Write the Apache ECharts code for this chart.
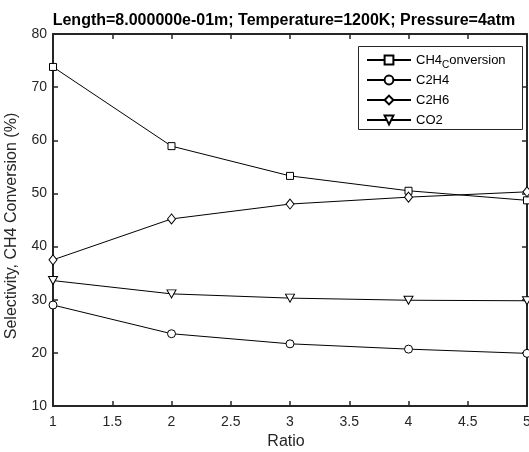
<!DOCTYPE html>
<html>
<head>
<meta charset="utf-8">
<script src="https://cdn.jsdelivr.net/npm/echarts@6/dist/echarts.min.js"></script>
<style>
  html, body { margin: 0; padding: 0; background: #fff; }
  #chart { width: 529px; height: 452px; }
</style>
</head>
<body>
<div id="chart"></div>
<script>
// values
const ratio = [1, 2, 3, 4, 5];
const ch4Conversion = [73.8, 58.9, 53.3, 50.5, 48.7];
const c2h4 = [29.0, 23.6, 21.7, 20.7, 19.9];
const c2h6 = [37.5, 45.2, 48.0, 49.3, 50.3];
const co2 = [33.6, 31.1, 30.3, 29.9, 29.8];

const seriesNames = ['CH4_conversion', 'C2H4', 'C2H6', 'CO2'];
const seriesData = [ch4Conversion, c2h4, c2h6, co2];
const symbols = ['rect', 'circle', 'diamond', 'triangle'];
const symbolSizes = [7, 8, [8, 10], [9, 8]];
const symbolRotates = [0, 0, 0, 180];

const axisColor = '#262626';
const font = 'Liberation Sans, Arial, sans-serif';

const pairs = d => d.map((v, i) => [ratio[i], v]);

const myChart = echarts.init(document.getElementById('chart'));

const options = {
  animation: false,
  backgroundColor: '#fff',
  title: {
    text: 'Length=8.000000e-01m; Temperature=1200K; Pressure=4atm',
    left: 279,
    textAlign: 'center',
    top: 8,
    textStyle: { fontFamily: font, fontSize: 16, fontWeight: 'bold', color: '#000' }
  },
  grid: { left: 53, right: 2, top: 34, bottom: 46, containLabel: false, outerBoundsMode: 'none' },
  xAxis: [{
    type: 'value', min: 1, max: 5, interval: 0.5,
    name: 'Ratio', nameLocation: 'middle', nameGap: 25,
    nameTextStyle: { fontFamily: font, fontSize: 16, color: axisColor, padding: [0, 8, 0, 0] },
    axisLine: { lineStyle: { color: axisColor, width: 2 } },
    axisTick: { inside: true, length: 5, lineStyle: { color: axisColor, width: 1.5 } },
    axisLabel: { fontFamily: font, fontSize: 14, color: axisColor, margin: 9 },
    splitLine: { show: false }
  }, {
    type: 'value', min: 1, max: 5, interval: 0.5, position: 'top',
    axisLine: { lineStyle: { color: axisColor, width: 2 } },
    axisTick: { inside: true, length: 5, lineStyle: { color: axisColor, width: 1.5 } },
    axisLabel: { show: false },
    splitLine: { show: false }
  }],
  yAxis: [{
    type: 'value', min: 10, max: 80, interval: 10,
    name: 'Selectivity, CH4 Conversion (%)', nameLocation: 'middle', nameGap: 33,
    nameTextStyle: { fontFamily: font, fontSize: 16, color: axisColor, padding: [0, 12, 0, 0] },
    axisLine: { show: true, lineStyle: { color: axisColor, width: 2 } },
    axisTick: { show: true, inside: true, length: 5, lineStyle: { color: axisColor, width: 1.5 } },
    axisLabel: { fontFamily: font, fontSize: 14, color: axisColor, margin: 6 },
    splitLine: { show: false }
  }, {
    type: 'value', min: 10, max: 80, interval: 10, position: 'right',
    axisLine: { show: true, lineStyle: { color: axisColor, width: 2 } },
    axisTick: { show: true, inside: true, length: 5, lineStyle: { color: axisColor, width: 1.5 } },
    axisLabel: { show: false },
    splitLine: { show: false }
  }],
  legend: {
    orient: 'vertical',
    left: 361,
    top: 45,
    itemWidth: 44,
    itemHeight: 11,
    itemGap: 0,
    data: seriesNames,
    lineStyle: { width: 2 },
    formatter: name => name === 'CH4_conversion' ? '{n|CH4}{s|C}{n|onversion}' : name,
    textStyle: {
      fontFamily: font, fontSize: 13, color: '#000', lineHeight: 20,
      rich: {
        n: { fontFamily: font, fontSize: 13, color: '#000', lineHeight: 20 },
        s: { fontFamily: font, fontSize: 10, color: '#000', lineHeight: 10, verticalAlign: 'bottom' }
      }
    }
  },
  graphic: [{
    type: 'rect',
    shape: { x: 358.5, y: 46.5, width: 164, height: 83 },
    style: { fill: '#fff', stroke: axisColor, lineWidth: 1 },
    z: 0
  }],
  series: seriesNames.map((name, i) => ({
    name: name,
    type: 'line',
    data: pairs(seriesData[i]),
    symbol: symbols[i],
    symbolSize: symbolSizes[i],
    symbolRotate: symbolRotates[i],
    showAllSymbol: true,
    clip: false,
    lineStyle: { color: '#000', width: 1 },
    itemStyle: { color: '#fff', borderColor: '#000', borderWidth: 1 },
    emphasis: { disabled: true },
    z: 3
  }))
};

myChart.setOption(options);
</script>
</body>
</html>
